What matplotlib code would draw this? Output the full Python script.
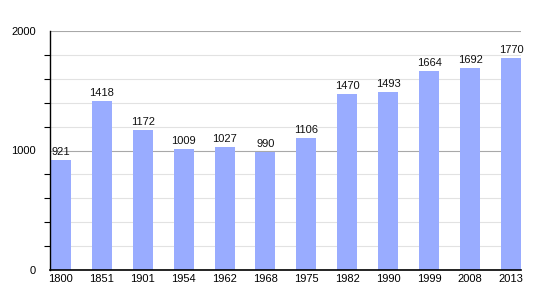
import matplotlib
matplotlib.use("Agg")
import matplotlib.pyplot as plt
from matplotlib.ticker import MultipleLocator

plt.rcParams["font.family"] = ["Liberation Sans", "DejaVu Sans"]

years = ["1800", "1851", "1901", "1954", "1962", "1968", "1975", "1982", "1990", "1999", "2008", "2013"]
population = [921, 1418, 1172, 1009, 1027, 990, 1106, 1470, 1493, 1664, 1692, 1770]

fig = plt.figure(figsize=(5.5, 3.0), dpi=100)
ax = fig.add_axes([50/550, 0.1, (521-50)/550, (270-31)/300])

x = list(range(len(years)))
w = 0.49
ax.bar(x, population, width=w, color="#99acff", zorder=3)
for xi, v in zip(x, population):
    ax.text(xi, v + 25, str(v), ha="center", va="bottom", fontsize=8, color="#111111", zorder=4)

ax.set_ylim(0, 2000)
ax.set_xlim(-w/2 - 0.02, len(years) - 1 + w/2)
ax.yaxis.set_major_locator(MultipleLocator(1000))
ax.yaxis.set_minor_locator(MultipleLocator(200))
ax.grid(which="minor", axis="y", color="#e2e2e2", linewidth=0.8, zorder=0)
ax.grid(which="major", axis="y", color="#a8a8a8", linewidth=0.8, zorder=1)
ax.set_xticks(x)
ax.set_xticklabels(years)
ax.tick_params(axis="x", length=0, labelsize=8, pad=3)
ax.tick_params(axis="y", which="major", length=0, labelsize=8, pad=10)
ax.tick_params(axis="y", which="minor", length=4, width=0.8)
for s in ["top", "right"]:
    ax.spines[s].set_visible(False)
ax.spines["left"].set_linewidth(1.0)
ax.spines["bottom"].set_linewidth(1.2)
ax.spines["left"].set_zorder(5)
ax.spines["bottom"].set_zorder(5)

fig.savefig("out.png", dpi=100)
